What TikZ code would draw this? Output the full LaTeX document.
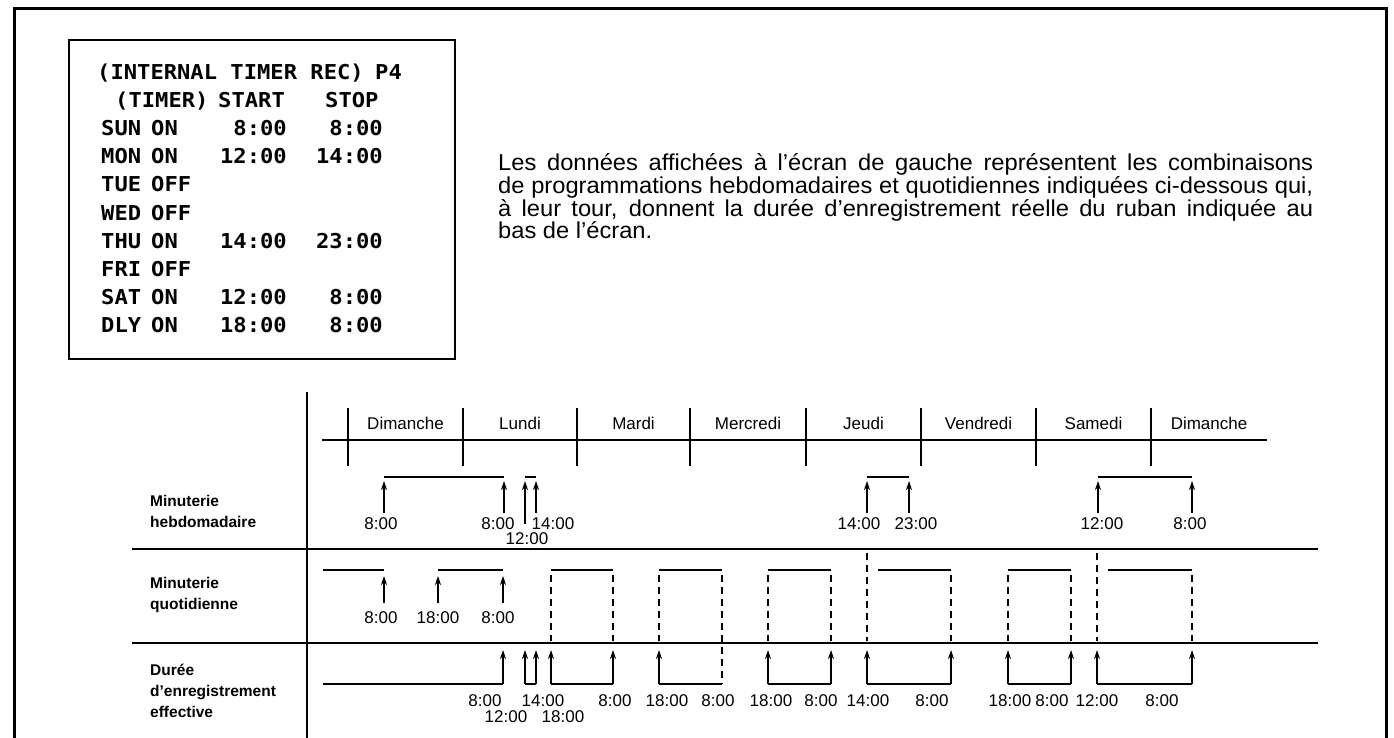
\documentclass[tikz,border=0pt]{standalone}
\usepackage{fontspec}
\setmainfont{Liberation Sans}
\newfontfamily\osdfont[FakeStretch=1.08]{DejaVu Sans Mono}
\newfontfamily\parafont[FakeStretch=1.03]{Liberation Sans}
\usetikzlibrary{arrows.meta}
\begin{document}
\begin{tikzpicture}[x=1pt,y=-1pt,
  outer/.style={line width=3pt},
  boxln/.style={line width=2pt},
  ln/.style={line width=1.8pt},
  upar/.style={line width=1.8pt,-{Stealth[length=9pt,width=6pt]}},
  dashln/.style={line width=1.6pt,dash pattern=on 7pt off 5pt},
  osd/.style={font=\osdfont\bfseries\fontsize{20.5}{20.5}\selectfont,inner sep=0pt,text height=15pt,text depth=0pt},
  tm/.style={font=\fontsize{17}{17}\selectfont,inner sep=0pt,text height=12.5pt,text depth=0pt},
  dayl/.style={font=\fontsize{17}{17}\selectfont,inner sep=0pt,text height=12pt,text depth=0pt},
  rowl/.style={font=\bfseries\fontsize{15.5}{21}\selectfont,align=left,anchor=west,inner sep=0pt},
  para/.style={font=\parafont\fontsize{23}{22.5}\selectfont,inner sep=0pt,anchor=base west}
]
\useasboundingbox (0,0) rectangle (1394,738);
\fill[white] (0,0) rectangle (1394,738);
% outer frame (open at the bottom)
\draw[outer] (14,738) -- (14,9) -- (1386,9) -- (1386,738);
% OSD screen box
\node[boxln,draw,minimum width=386pt,minimum height=319pt,anchor=north west,inner sep=0pt] (osdbox) at (68,39) {};
\node[osd,anchor=west] (hdrA) at (97,72) {(INTERNAL TIMER REC)};
\node[osd,anchor=west] (hdrB) at (375,72) {P4};
\node[osd,anchor=west] (hdrC) at (115,100) {(TIMER)};
\node[osd,anchor=west] (hdrD) at (218,100) {START};
\node[osd,anchor=west] (hdrE) at (325,100) {STOP};
\foreach \n/\d/\o/\s/\e [count=\i] in {sun/SUN/ON/8:00/8:00, mon/MON/ON/12:00/14:00, tue/TUE/OFF//, wed/WED/OFF//, thu/THU/ON/14:00/23:00, fri/FRI/OFF//, sat/SAT/ON/12:00/8:00, dly/DLY/ON/18:00/8:00}{
  \pgfmathsetmacro{\yy}{128+(\i-1)*28.2}
  \node[osd,anchor=west] (\n-d) at (101,\yy) {\d};
  \node[osd,anchor=west] (\n-o) at (151,\yy) {\o};
  \node[osd,anchor=east] (\n-s) at (287,\yy) {\s};
  \node[osd,anchor=east] (\n-e) at (383,\yy) {\e};
}
% paragraph
\node[para] (p1) at (498,171) {\makebox[815pt][s]{Les données affichées à l’écran de gauche représentent les combinaisons}};
\node[para] (p2) at (498,193.5) {\makebox[815pt][s]{de programmations hebdomadaires et quotidiennes indiquées ci-dessous qui,}};
\node[para] (p3) at (498,216) {\makebox[815pt][s]{à leur tour, donnent la durée d’enregistrement réelle du ruban indiquée au}};
\node[para] (p4) at (498,238.5) {bas de l’écran.};
% axis and row dividers
\draw[ln] (307,392) -- (307,738);
\draw[ln] (132,549) -- (1318,549);
\draw[ln] (132,643) -- (1318,643);
% header of days
\draw[ln] (322,440) -- (1267,440);
\foreach \x in {348,463,577,690,806,921,1036,1151}
  \draw[ln] (\x,408) -- (\x,466);
\foreach \n/\x/\t in {d1/405.5/Dimanche, d2/520/Lundi, d3/633.5/Mardi, d4/748/Mercredi, d5/863.5/Jeudi, d6/978.5/Vendredi, d7/1093.5/Samedi, d8/1209/Dimanche}
  \node[dayl] (\n) at (\x,423) {\t};
% row labels
\node[rowl] (lw) at (150,511) {Minuterie\\hebdomadaire};
\node[rowl] (ld) at (150,595) {Minuterie\\quotidienne};
\node[rowl] (lr) at (150,691) {Durée\\d’enregistrement\\effective};
% weekly timer
\foreach \a/\b in {384/504,525/536,867/909,1098/1192}
  \draw[ln] (\a,477) -- (\b,477);
\foreach \x in {384,504,536,867,909,1098,1192}
  \draw[upar] (\x,513) -- (\x,481);
\draw[upar] (525,524) -- (525,481);
\foreach \n/\x/\y/\t in {w1/381/523/8:00, w2/498/523/8:00, w3/553/523/14:00, w4/527/538/12:00, w5/859/523/14:00, w6/916/523/23:00, w7/1102/523/12:00, w8/1190/523/8:00}
  \node[tm] (\n) at (\x,\y) {\t};
% daily timer
\foreach \a/\b in {323/384,438/503,551/613,659/722,768/831,878/951,1008/1071,1108/1192}
  \draw[ln] (\a,570) -- (\b,570);
\foreach \x in {384,438,503}
  \draw[upar] (\x,603) -- (\x,576);
\foreach \n/\x/\t in {q1/381/8:00, q2/438/18:00, q3/498/8:00}
  \node[tm] (\n) at (\x,617) {\t};
\foreach \x in {551,613,659,768,831,951,1008,1071,1192}
  \draw[dashln] (\x,575) -- (\x,641);
\draw[dashln] (722,575) -- (722,684);
\foreach \x in {867,1097}
  \draw[dashln] (\x,553) -- (\x,641);
% effective recording
\foreach \a/\b in {323/503,525/536,551/613,659/722,768/831,867/951,1008/1071,1097/1192}
  \draw[ln] (\a,684) -- (\b,684);
\foreach \x in {503,525,536,551,613,659,768,831,867,951,1008,1071,1097,1192}
  \draw[upar] (\x,684) -- (\x,650);
\foreach \n/\x/\y/\t in {r1/485/700/8:00, r2/543/700/14:00, r3/506/716/12:00, r4/563/716/18:00, r5/615/700/8:00, r6/667/700/18:00, r7/718/700/8:00, r8/771/700/18:00, r9/821/700/8:00, r10/868/700/14:00, r11/932/700/8:00, r12/1010/700/18:00, r13/1052/700/8:00, r14/1097/700/12:00, r15/1162/700/8:00}
  \node[tm] (\n) at (\x,\y) {\t};
\end{tikzpicture}
\end{document}
